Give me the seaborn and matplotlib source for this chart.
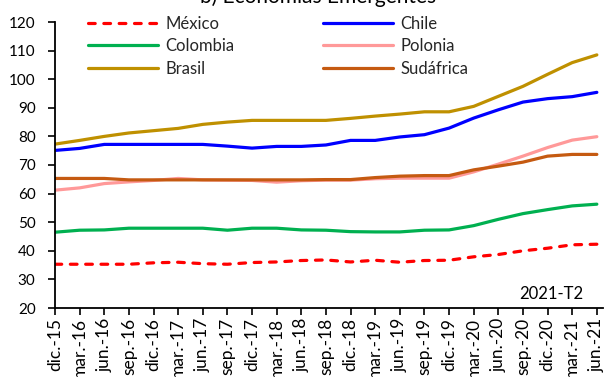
import matplotlib
matplotlib.use("Agg")
import matplotlib.pyplot as plt
import seaborn as sns
import numpy as np

quarters = ["dic.-15", "mar.-16", "jun.-16", "sep.-16", "dic.-16", "mar.-17",
            "jun.-17", "sep.-17", "dic.-17", "mar.-18", "jun.-18", "sep.-18",
            "dic.-18", "mar.-19", "jun.-19", "sep.-19", "dic.-19", "mar.-20",
            "jun.-20", "sep.-20", "dic.-20", "mar.-21", "jun.-21"]

mexico = [35.3, 35.3, 35.3, 35.3, 35.8, 36.0, 35.5, 35.3, 35.9, 36.1, 36.6, 36.8,
          36.1, 36.7, 36.0, 36.6, 36.7, 37.9, 38.7, 40.0, 40.9, 42.1, 42.3]
chile = [75.1, 75.8, 77.2, 77.2, 77.2, 77.2, 77.2, 76.6, 75.9, 76.5, 76.5, 77.0,
         78.6, 78.6, 79.8, 80.6, 82.9, 86.4, 89.3, 92.0, 93.2, 93.9, 95.4]
colombia = [46.5, 47.2, 47.3, 47.9, 47.9, 47.9, 47.9, 47.2, 47.9, 47.9, 47.3, 47.2,
            46.7, 46.6, 46.6, 47.2, 47.3, 48.8, 51.0, 53.0, 54.4, 55.7, 56.3]
polonia = [61.2, 62.0, 63.5, 64.1, 64.6, 65.3, 64.8, 64.7, 64.6, 64.0, 64.5, 64.7,
           64.7, 65.2, 65.4, 65.4, 65.4, 67.6, 70.3, 73.1, 76.1, 78.7, 79.9]
brasil = [77.3, 78.6, 80.0, 81.2, 82.0, 82.8, 84.2, 85.0, 85.6, 85.6, 85.6, 85.6,
          86.3, 87.1, 87.8, 88.6, 88.6, 90.5, 94.0, 97.5, 101.7, 105.8, 108.5]
sudafrica = [65.3, 65.3, 65.3, 64.8, 64.8, 64.8, 64.8, 64.8, 64.8, 64.8, 64.8, 64.9,
             64.9, 65.6, 66.1, 66.3, 66.3, 68.3, 69.6, 71.0, 73.1, 73.7, 73.7]

series = [
    ("México", mexico, "#FF0000", (0, (2.1, 2.7))),
    ("Chile", chile, "#0000FF", "-"),
    ("Colombia", colombia, "#00B050", "-"),
    ("Polonia", polonia, "#FF9999", "-"),
    ("Brasil", brasil, "#BF9000", "-"),
    ("Sudáfrica", sudafrica, "#C55A11", "-"),
]

sns.set_theme(style="white")
plt.rcParams["font.family"] = ["Lato", "DejaVu Sans"]

fig = plt.figure(figsize=(6.13, 3.77), dpi=100)
ax = fig.add_axes([55 / 613, 1 - 308 / 377, 548 / 613, 286 / 377])

x = np.arange(len(quarters))
for name, vals, color, ls in series:
    sns.lineplot(x=x, y=vals, ax=ax, color=color, linewidth=2.3,
                 linestyle=ls, label=name)
for line in ax.get_lines():
    line.set_solid_capstyle("round")
    line.set_dash_capstyle("round")

h, l = ax.get_legend_handles_labels()
lookup = dict(zip(l, h))
order = ["México", "Colombia", "Brasil", "Chile", "Polonia", "Sudáfrica"]
ax.legend([lookup[k] for k in order], order, ncol=2, frameon=False,
          loc="upper left", bbox_to_anchor=(0.06, 1.022), handlelength=4.2,
          handletextpad=0.45, columnspacing=5.3, labelspacing=0.39,
          fontsize=12, borderaxespad=0, borderpad=0)

ax.set_ylim(20, 120)
ax.set_yticks(range(20, 121, 10))
ax.set_xlim(0, 22.25)
ax.set_xticks(x)
ax.set_xticklabels(quarters, rotation=90, fontsize=12.5)
ax.tick_params(axis="y", labelsize=11, length=5, width=1.2, direction="out",
               left=True, color="black", labelcolor="black", pad=9)
ax.tick_params(axis="x", length=5, width=1.2, direction="out", bottom=True,
               color="black", labelcolor="black", pad=2.2)
for side in ["top", "right"]:
    ax.spines[side].set_visible(False)
for side in ["left", "bottom"]:
    ax.spines[side].set_color("black")
    ax.spines[side].set_linewidth(1.3)
ax.grid(False)
ax.set_xlabel("")
ax.set_ylabel("")

ax.text(0.9635, 0.049, "2021-T2", transform=ax.transAxes, ha="right",
        va="center", fontsize=12, color="black")

fig.text(318 / 613, 1 - 3 / 377, "b) Economías Emergentes", ha="center",
         va="baseline", fontsize=15, color="black")

fig.savefig("out.png", dpi=100)
